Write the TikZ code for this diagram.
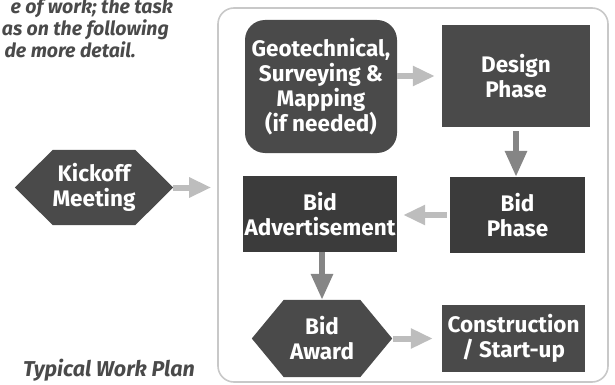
\documentclass[tikz,border=0pt]{standalone}
\usepackage{fontspec}
\setmainfont{Fira Sans}
\usetikzlibrary{arrows.meta,backgrounds}
\definecolor{boxfill}{HTML}{4A4A4A}
\definecolor{boxdark}{HTML}{3B3B3B}
\definecolor{arrowlight}{HTML}{BDBDBD}
\definecolor{arrowmid}{HTML}{858585}
\definecolor{framegray}{HTML}{C8C8C8}
\definecolor{captiongray}{HTML}{4A4A4A}
\begin{document}
\begin{tikzpicture}[x=1pt,y=-1pt,
  boxtext/.style={text=white, font=\bfseries\fontsize{22.5}{25}\selectfont, align=center, inner sep=0pt},
  stepbox/.style={boxtext, fill=boxfill},
  darkbox/.style={boxtext, fill=boxdark},
  hexnode/.style={boxtext},
  arrowlt/.style={draw=arrowlight, line width=6pt, -{Triangle[length=22pt,width=19pt]}},
  arrowmd/.style={draw=arrowmid, line width=6pt, -{Triangle[length=26pt,width=21pt]}},
  caption/.style={text=captiongray, font=\bfseries\itshape\fontsize{19.5}{22}\selectfont, inner sep=0pt}
]
\useasboundingbox (0,0) rectangle (615,385);
\clip (0,0) rectangle (615,385);

% frame
\node[draw=framegray, line width=1.6pt, rounded corners=16pt, minimum width=390pt, minimum height=374pt, inner sep=0pt] (frame) at (413,195) {};

% top text
\node[caption, anchor=base east] (t1) at (173,14) {e of work; the task};
\node[caption, anchor=base east] (t2) at (169,36) {as on the following};
\node[caption, anchor=base east] (t3) at (136,58) {de more detail.};
\node[caption, font=\bfseries\itshape\fontsize{21.5}{22}\selectfont, anchor=base west] (cap) at (23,376) {Typical Work Plan};

% boxes
\node[stepbox, rounded corners=20pt, minimum width=152pt, minimum height=133pt] (geo) at (321,86.5) {Geotechnical,\\Surveying \&\\Mapping\\(if needed)};
\node[stepbox, minimum width=148pt, minimum height=102pt] (design) at (516,76) {Design\\Phase};
\node[darkbox, minimum width=135pt, minimum height=76pt] (bidphase) at (517.5,215) {Bid\\Phase};
\node[darkbox, minimum width=154pt, minimum height=76pt] (bidadv) at (320,214) {Bid\\Advertisement};
\node[stepbox, minimum width=143pt, minimum height=67pt] (constr) at (513.5,338.5) {Construction\\/ Start-up};

% hexagons
\node[hexnode, minimum width=158pt, minimum height=75pt] (kick) at (94,187.5) {Kickoff\\Meeting};
\node[hexnode, minimum width=140pt, minimum height=77pt] (award) at (322,338.5) {Bid\\Award};
\begin{scope}[on background layer]
\fill[boxfill] (kick.west) -- ([xshift=38pt]kick.north west) -- ([xshift=-38pt]kick.north east) -- (kick.east) -- ([xshift=-38pt]kick.south east) -- ([xshift=38pt]kick.south west) -- cycle;
\fill[boxfill] (award.west) -- ([xshift=32pt]award.north west) -- ([xshift=-32pt]award.north east) -- (award.east) -- ([xshift=-32pt]award.south east) -- ([xshift=32pt]award.south west) -- cycle;
\end{scope}

% connectors
\draw[arrowlt, shorten >=6pt] (kick.east) -- (kick.east -| frame.west);
\draw[arrowlt, shorten >=7pt] (geo.east |- design.west) -- (design.west);
\draw[arrowmd, shorten <=4pt] (design.south) -- (design.south |- bidphase.north);
\draw[arrowlt, shorten <=3pt, shorten >=6pt] (bidphase.west) -- (bidphase.west -| bidadv.east);
\draw[arrowmd] (bidadv.south -| award.north) -- (award.north);
\draw[arrowlt, shorten <=1pt, shorten >=9pt] (award.east) -- (constr.west);
\end{tikzpicture}
\end{document}
